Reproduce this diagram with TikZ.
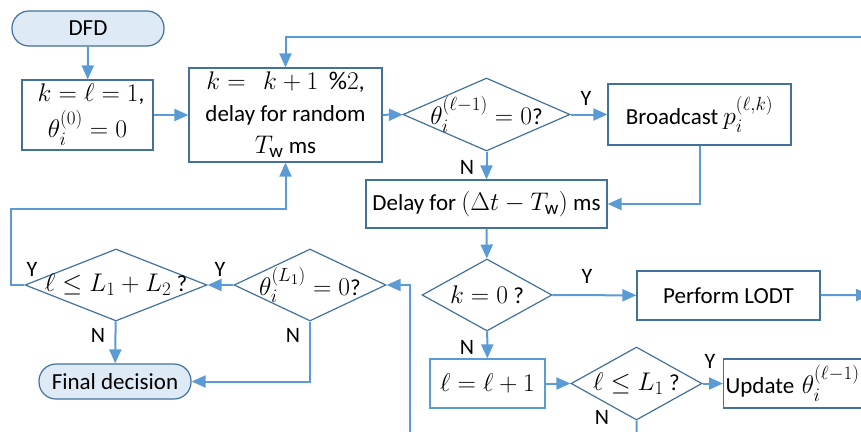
\documentclass[tikz,border=0pt]{standalone}
\usepackage{fix-cm}
\usepackage{amsmath,amssymb}
\usepackage{fontspec}
\setmainfont{Carlito}
\DeclareMathSizes{23}{25.5}{19}{15}
\DeclareMathSizes{22}{24}{18}{14}
\usepackage{tikz}
\usetikzlibrary{arrows.meta,shapes.geometric}
\definecolor{bordblue}{HTML}{41719C}
\definecolor{linkblue}{HTML}{5B9BD5}
\definecolor{termfill}{HTML}{DEEBF7}
\tikzstyle{fc_term} = [rectangle, rounded corners=17pt, draw=bordblue, fill=termfill, line width=1.2pt, minimum width=152pt, minimum height=35pt, align=center, font=\fontsize{23}{31}\selectfont]
\tikzstyle{fc_box} = [rectangle, draw=bordblue, line width=1.2pt, align=center, inner sep=2pt, font=\fontsize{23}{31}\selectfont]
\tikzstyle{fc_dec} = [diamond, draw=bordblue, line width=1.2pt, inner sep=0pt, aspect=2, font=\fontsize{23}{31}\selectfont]
\tikzstyle{fc_lbl} = [inner sep=1pt, font=\fontsize{22}{25}\selectfont]

\begin{document}
\begin{tikzpicture}[x=1pt,y=-1pt,>={Triangle[length=14pt,width=12pt]},
link/.style={->, draw=linkblue, line width=2pt}
]
\clip (0,0) rectangle (861,431);
% start and first steps
\node [fc_term] (dfd) at (88,28.5) {DFD};
\node [fc_box, minimum width=131pt, minimum height=70pt] (init) at (87.5,115) {$\;k=\ell=1$,\\[5pt] $\theta_i^{(0)}=0$};
\node [fc_box, minimum width=193pt, minimum height=94pt] (wait) at (285.5,115) {$k=\ \ k+1\ \ \%2$,\\[1pt] delay for random\\[1pt] $T_{\mathrm{w}}$ ms};
\node [fc_dec, minimum width=167pt, minimum height=73pt] (chk_prev) at (486.5,114.5) {\makebox[0pt]{$\theta_i^{(\ell-1)}=0$?}};
\node [fc_box, minimum width=183pt, minimum height=61pt] (bcast) at (699.5,114.5) {Broadcast $p_i^{(\ell,k)}$};
\node [fc_box, minimum width=241pt, minimum height=48pt] (delay) at (486.5,204) {Delay for $(\Delta t-T_{\mathrm{w}})$ ms};
% second half of the slot
\node [fc_dec, minimum width=130pt, minimum height=72pt] (chk_k) at (487,295) {\makebox[0pt]{$k=0$ ?}};
\node [fc_box, minimum width=183pt, minimum height=49pt] (lodt) at (728.5,295.5) {Perform LODT};
\node [fc_box, draw=linkblue, minimum width=115pt, minimum height=49pt] (incl) at (487.5,383.5) {$\ell=\ell+1$};
\node [fc_dec, minimum width=131pt, minimum height=73pt] (chk_l1) at (636.5,383.5) {\makebox[0pt]{$\ell\leq L_1$ ?}};
\node [fc_box, anchor=west, text width=166pt, minimum height=49pt, align=left, inner xsep=2pt] (updt) at (723,383.5) {Update $\theta_i^{(\ell-1)}$};
% end of a stage
\node [fc_dec, minimum width=152pt, minimum height=72pt] (chk_end) at (310,285) {\makebox[0pt]{$\theta_i^{(L_1)}=0$?}};
\node [fc_dec, minimum width=182pt, minimum height=72pt] (chk_l2) at (116,285) {\makebox[0pt]{$\ell\leq L_1+L_2$ ?}};
\node [fc_term] (final) at (115,381.5) {Final decision};
% Y / N labels
\node [fc_lbl] (y_prev) at (586,98) {Y};
\node [fc_lbl] (n_prev) at (467,167) {N};
\node [fc_lbl] (y_k) at (587,276) {Y};
\node [fc_lbl] (n_k) at (467,347) {N};
\node [fc_lbl] (y_l1) at (710,361) {Y};
\node [fc_lbl] (n_l1) at (602,417) {N};
\node [fc_lbl] (y_end) at (220,269) {Y};
\node [fc_lbl] (n_end) at (293,335) {N};
\node [fc_lbl] (y_l2) at (32,269) {Y};
\node [fc_lbl] (n_l2) at (98,335) {N};
% free ends
\coordinate (top_r) at (875,37);
\coordinate (lodt_r) at (870,295);
\coordinate (l1_b) at (637,445);
\coordinate (end_b) at (410,445);
\coordinate (l2_l) at (11,285);
% connectors
\draw [link] (dfd) -- (init);
\draw [link] (init) -- (wait);
\draw [link] (top_r) -| (wait.north);
\draw [link] (wait) -- (chk_prev);
\draw [link] (chk_prev) -- (bcast);
\draw [link] (chk_prev) -- (delay);
\draw [link] (bcast.south) |- (delay.east);
\draw [link] (delay) -- (chk_k);
\draw [link] (chk_k) -- (lodt);
\draw [link] (lodt) -- (lodt_r);
\draw [link] (chk_k) -- (incl);
\draw [link] (incl) -- (chk_l1);
\draw [link] (chk_l1) -- (updt);
\draw [link, -] (chk_l1.south) -- (l1_b);
\draw [link] (end_b) |- (chk_end.east);
\draw [link] (chk_end) -- (chk_l2);
\draw [link] (chk_l2.west) -- (l2_l) -- ++(0,-76) -| (wait.south);
\draw [link] (chk_l2) -- (final);
\draw [link] (chk_end.south) |- (final.east);
\end{tikzpicture}
\end{document}
